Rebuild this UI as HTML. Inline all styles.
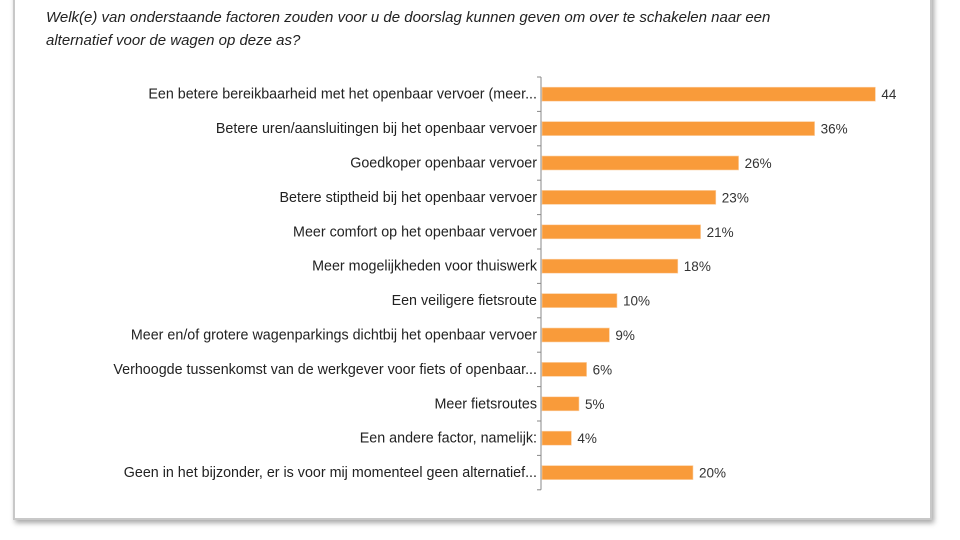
<!DOCTYPE html>
<html><head><meta charset="utf-8"><style>
body{margin:0;width:960px;height:540px;background:#fff;overflow:hidden;font-family:"Liberation Sans",sans-serif;}
#frame{position:absolute;left:13px;top:-10px;width:915px;height:528px;border:2px solid #c8c8c8;border-top:none;box-shadow:2px 3px 5px rgba(0,0,0,0.35);background:#fff;}
#title{position:absolute;left:46px;top:6px;font-size:15px;font-style:italic;color:#222;line-height:23px;}
</style></head><body>
<div id="frame"></div>
<div id="title">Welk(e) van onderstaande factoren zouden voor u de doorslag kunnen geven om over te schakelen naar een<br>alternatief voor de wagen op deze as?</div>
<svg id="chart" width="960" height="540" style="position:absolute;left:0;top:0"></svg>
<script>
const categories=["Een betere bereikbaarheid met het openbaar vervoer (meer...","Betere uren/aansluitingen bij het openbaar vervoer","Goedkoper openbaar vervoer","Betere stiptheid bij het openbaar vervoer","Meer comfort op het openbaar vervoer","Meer mogelijkheden voor thuiswerk","Een veiligere fietsroute","Meer en/of grotere wagenparkings dichtbij het openbaar vervoer","Verhoogde tussenkomst van de werkgever voor fiets of openbaar...","Meer fietsroutes","Een andere factor, namelijk:","Geen in het bijzonder, er is voor mij momenteel geen alternatief..."];
const values=[44,36,26,23,21,18,10,9,6,5,4,20];
const valueLabels=["44","36%","26%","23%","21%","18%","10%","9%","6%","5%","4%","20%"];
const svg=document.getElementById('chart');
const NS='http://www.w3.org/2000/svg';
const x0=541,pxPer=7.6,top0=77,step=34.4,bh=14;
const x=v=>x0+v*pxPer;
const yc=i=>top0+step*(i+0.5);
function mk(t,a){const e=document.createElementNS(NS,t);for(const k in a)e.setAttribute(k,a[k]);svg.appendChild(e);return e;}
const ax=mk('line',{x1:x0,x2:x0,y1:top0,y2:top0+step*categories.length,stroke:'#888','stroke-width':1});


for(let i=0;i<=categories.length;i++){const t=mk('line',{x1:x0-4,x2:x0,y1:top0+step*i,y2:top0+step*i,stroke:'#888'});

}
categories.forEach((c,i)=>{
const l=mk('text',{x:x0-4,y:yc(i)+4.5,'text-anchor':'end','font-size':'14.3',fill:'#222'});l.textContent=c;


const r=mk('rect',{x:x0+1,y:yc(i)-bh/2,width:x(values[i])-x0-1,height:bh,fill:'#f99b3a',stroke:'#fcd2a8','stroke-width':0.6});


const v=mk('text',{x:x(values[i])+6,y:yc(i)+5,'font-size':'13.5',fill:'#333'});v.textContent=valueLabels[i];


});
</script>
</body></html>
